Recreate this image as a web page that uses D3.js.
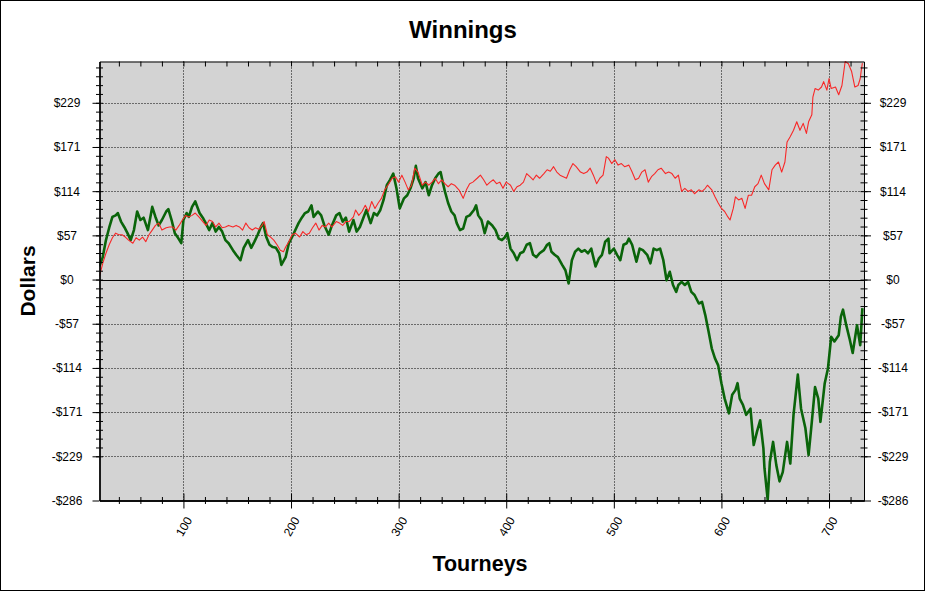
<!DOCTYPE html>
<html><head><meta charset="utf-8">
<script src="https://cdn.jsdelivr.net/npm/d3@7"></script>
<style>
body{margin:0;background:#fff}
svg{display:block}
text{font-family:"Liberation Sans",Arial,sans-serif}
</style>
</head><body>
<svg id="c" width="928" height="592"></svg>
<script>
const chartTitle = "Winnings";
const xTitle = "Tourneys";
const yTitle = "Dollars";
const tourneyTicks = [100, 200, 300, 400, 500, 600, 700];
const dollarTicks = [-285.75, -228.6, -171.45, -114.3, -57.15, 0, 57.15, 114.3, 171.45, 228.6];
const dollarLabels = ["-$286", "-$229", "-$171", "-$114", "-$57", "$0", "$57", "$114", "$171", "$229"];
const xDomain = [22, 732.5];
const yDomain = [-285.75, 282];

// [tourney, dollars]
const greenSeries = [
[22,17],[25,29],[28,51],[31,67],[34,81],[37,83],[39,86],[42,75],[45,68],[48,60],
[51,51],[54,64],[57,88],[60,77],[63,80],[67,64],[70,86],[71,94],[74,81],[77,70],
[80,77],[84,88],[86,91],[89,77],[92,60],[95,54],[98,47],[100,77],[103,86],[105,81],
[108,94],[111,101],[115,86],[118,80],[120,75],[124,64],[127,73],[130,62],[133,68],[136,62],
[139,51],[142,47],[146,38],[149,32],[153,25],[156,41],[160,51],[163,41],[166,49],[169,58],
[172,68],[174,73],[177,55],[180,45],[183,42],[186,41],[189,34],[191,19],[195,29],[198,47],
[201,55],[204,64],[207,73],[210,80],[213,86],[216,88],[219,96],[221,81],[225,88],[228,83],
[231,70],[235,58],[238,70],[242,83],[245,86],[248,75],[251,80],[254,62],
[258,77],[261,62],[264,68],[267,79],[270,90],[274,73],[277,86],[280,83],[283,90],[286,103],
[289,122],[292,129],[295,137],[298,118],[301,92],[305,105],[308,109],[311,118],[314,131],[316,147],
[318,131],[322,118],[325,126],[328,109],[331,122],[334,131],[337,137],[339,139],[341,126],[343,114],
[346,99],[349,88],[352,83],[354,73],[357,64],[360,66],[363,81],[366,83],[370,90],[372,96],
[374,83],[377,77],[380,60],[383,75],[387,70],[390,64],[393,53],[396,51],[399,55],[401,60],
[404,40],[407,34],[410,25],[413,34],[416,36],[419,45],[422,47],[425,32],[428,29],[431,34],
[435,38],[438,45],[440,47],[442,36],[445,32],[448,29],[452,19],[455,12],[458,-5],[461,25],
[464,36],[467,40],[470,36],[473,38],[476,34],[479,40],[483,17],[486,27],[489,32],[492,49],
[495,53],[496,34],[500,40],[503,32],[506,25],[509,45],[512,47],[514,53],[517,45],[521,23],
[524,40],[527,38],[531,32],[534,21],[537,40],[540,38],[543,40],[546,25],[549,-1],[552,10],
[555,-7],[558,-16],[560,-7],[563,-3],[566,-7],[569,-3],[572,-16],[575,-20],[579,-31],[582,-29],
[585,-46],[588,-67],[591,-89],[594,-102],[597,-111],[600,-134],[603,-154],[607,-173],[610,-149],[613,-143],
[615,-134],[617,-154],[620,-162],[623,-175],[627,-167],[630,-214],[633,-197],[636,-182],[639,-218],[640,-244],
[643,-285],[645,-236],[648,-210],[651,-240],[654,-261],[657,-249],[661,-210],[664,-238],[667,-175],[671,-123],
[674,-167],[678,-192],[681,-227],[684,-184],[687,-139],[690,-154],[692,-184],[696,-134],[699,-115],[702,-74],
[705,-80],[709,-72],[711,-48],[713,-39],[716,-59],[719,-76],[722,-95],[726,-59],[729,-85],[731,-37]
];

const redSeries = [
[22,4],[25,21],[28,34],[31,45],[34,54],[37,60],[40,58],[43,58],[46,55],[49,51],
[53,47],[56,54],[59,51],[62,55],[65,49],[68,58],[71,64],[74,70],[77,73],[80,64],
[84,67],[87,68],[90,68],[93,64],[96,70],[99,77],[102,83],[105,81],[108,83],[111,86],
[115,80],[118,75],[121,70],[124,77],[127,75],[130,68],[133,73],[136,67],[139,68],[142,70],
[146,68],[149,70],[152,68],[155,64],[158,73],[161,67],[164,64],[167,67],[170,65],[173,70],
[175,75],[178,58],[181,55],[184,51],[187,45],[190,38],[193,36],[195,42],[198,49],[201,58],
[204,60],[208,55],[211,62],[214,58],[217,60],[220,67],[223,73],[226,64],[229,70],[232,68],
[235,73],[238,68],[242,75],[245,73],[248,70],[251,75],[254,75],
[258,81],[260,90],[263,83],[266,88],[269,96],[272,88],[275,101],[278,92],[281,99],[284,105],
[287,116],[290,122],[294,131],[297,133],[300,126],[303,135],[306,126],[309,116],[312,122],[315,144],
[318,139],[322,122],[325,126],[328,122],[331,126],[334,131],[337,124],[340,129],[343,124],[346,120],
[349,124],[352,122],[356,116],[360,105],[363,116],[366,124],[369,126],[373,131],[376,135],[379,129],
[382,122],[385,126],[388,129],[391,124],[394,126],[397,118],[400,126],[404,122],[407,114],[410,120],
[413,122],[416,126],[419,137],[422,133],[425,129],[428,135],[431,131],[435,137],[438,142],[441,140],
[444,146],[447,139],[450,135],[453,133],[456,131],[459,142],[462,150],[465,146],[469,139],[472,137],
[475,139],[478,144],[481,135],[484,124],[487,131],[490,135],[493,159],
[495,157],[498,150],[501,155],[504,148],[507,150],[510,146],[514,148],[517,139],[520,129],[523,131],
[526,139],[529,142],[532,126],[535,133],[538,137],[541,142],[544,144],[548,137],[551,139],[554,137],
[557,131],[560,135],[563,114],[566,118],[569,114],[572,116],[575,111],[579,116],[582,114],[585,118],
[587,122],[591,116],[594,107],[597,99],[600,92],[603,88],[606,81],[608,77],[611,92],[613,107],
[616,103],[619,105],[622,92],[625,109],[628,109],[631,120],[634,124],[637,135],[640,124],[644,116],
[647,142],[650,148],[653,152],[656,139],[659,152],[661,178],[664,185],[667,193],[670,204],[673,193],
[676,202],[679,189],[681,204],[684,213],[685,236],[687,247],[690,245],[693,249],[695,256],[698,245],
[700,260],[702,247],[706,249],[709,239],[712,251],[715,282],[718,279],[721,269],[724,249],[727,251],
[729,260],[730,271],[731,280]
];

const svg = d3.select("#c");
const L = 99.5, R = 864, T = 61.5, B = 500.5;
const x = d3.scaleLinear().domain(xDomain).range([L, R]);
const y = d3.scaleLinear().domain(yDomain).range([B, T]);

svg.append("rect").attr("x", 0.5).attr("y", 0.5).attr("width", 924).attr("height", 590)
  .attr("fill", "#fff").attr("stroke", "#000");
svg.append("rect").attr("x", L).attr("y", T).attr("width", R - L).attr("height", B - T).attr("fill", "#d3d3d3");

// grid
const grid = svg.append("g");
grid.selectAll("line.h").data(dollarTicks.filter(d => d !== 0 && d > yDomain[0])).join("line")
  .attr("x1", L).attr("x2", R).attr("y1", d => Math.round(y(d)) + 0.5).attr("y2", d => Math.round(y(d)) + 0.5)
  .attr("stroke", "#000").attr("stroke-dasharray", "1,2");
grid.selectAll("line.v").data(tourneyTicks).join("line")
  .attr("y1", T).attr("y2", B).attr("x1", d => Math.round(x(d)) + 0.5).attr("x2", d => Math.round(x(d)) + 0.5)
  .attr("stroke", "#000").attr("stroke-dasharray", "1,2");
grid.append("line").attr("x1", L).attr("x2", R).attr("y1", Math.round(y(0)) + 0.5).attr("y2", Math.round(y(0)) + 0.5)
  .attr("stroke", "#000");

// lines
const line = d3.line().x(d => x(d[0])).y(d => y(d[1]));
svg.append("clipPath").attr("id", "pc").append("rect").attr("x", L).attr("y", T - 1).attr("width", R - L).attr("height", B - T + 2);
svg.append("path").datum(greenSeries).attr("d", line).attr("fill", "none")
  .attr("stroke", "#0a640a").attr("stroke-width", 2.6).attr("stroke-linejoin", "round").attr("clip-path", "url(#pc)");
svg.append("path").datum(redSeries).attr("d", line).attr("fill", "none")
  .attr("stroke", "#f82828").attr("stroke-width", 1.1).attr("stroke-linejoin", "round").attr("clip-path", "url(#pc)");

// minor tick values
const yMinor = d3.range(-20, 26).map(k => k * 11.43).filter(v => v >= yDomain[0] && v <= yDomain[1]);
const xMinor = d3.range(40, 731, 20).filter(v => v % 100 !== 0);

function styleAxis(g) {
  g.selectAll("path.domain").attr("stroke", "#000");
  g.selectAll("line").attr("stroke", "#000");
  g.selectAll("text").attr("font-size", 12).attr("fill", "#000").style("font-family", '"Liberation Sans",Arial,sans-serif');
}

// left axis
const gl = svg.append("g").attr("transform", `translate(${L},0)`)
  .call(d3.axisLeft(y).tickValues(dollarTicks).tickFormat((d, i) => dollarLabels[i]).tickSizeInner(7).tickSizeOuter(0));
gl.selectAll("text").attr("x", -32.5).attr("text-anchor", "middle");
styleAxis(gl);
const glm = svg.append("g").attr("transform", `translate(${L},0)`)
  .call(d3.axisLeft(y).tickValues(yMinor).tickFormat("").tickSizeInner(3.5).tickSizeOuter(0));
const glm2 = svg.append("g").attr("transform", `translate(${L},0)`)
  .call(d3.axisLeft(y).tickValues(yMinor).tickFormat("").tickSizeInner(-3.5).tickSizeOuter(0));
styleAxis(glm); styleAxis(glm2);

// right axis
const gr = svg.append("g").attr("transform", `translate(${R},0)`)
  .call(d3.axisRight(y).tickValues(dollarTicks).tickFormat((d, i) => dollarLabels[i]).tickSizeInner(7).tickSizeOuter(0));
gr.selectAll("text").attr("x", 29).attr("text-anchor", "middle");
styleAxis(gr);
const grm = svg.append("g").attr("transform", `translate(${R},0)`)
  .call(d3.axisRight(y).tickValues(yMinor).tickFormat("").tickSizeInner(3.5).tickSizeOuter(0));
const grm2 = svg.append("g").attr("transform", `translate(${R},0)`)
  .call(d3.axisRight(y).tickValues(yMinor).tickFormat("").tickSizeInner(-3.5).tickSizeOuter(0));
styleAxis(grm); styleAxis(grm2);

// bottom axis
const gb = svg.append("g").attr("transform", `translate(0,${B})`)
  .call(d3.axisBottom(x).tickValues(tourneyTicks).tickSizeInner(8).tickSizeOuter(0));
gb.selectAll("text").attr("y", 0).attr("dy", "0.35em").attr("text-anchor", "middle")
  .attr("transform", "translate(0,26) rotate(-60)");
styleAxis(gb);
const gbi = svg.append("g").attr("transform", `translate(0,${B})`)
  .call(d3.axisBottom(x).tickValues(tourneyTicks).tickFormat("").tickSizeInner(-7).tickSizeOuter(0));
const gbm = svg.append("g").attr("transform", `translate(0,${B})`)
  .call(d3.axisBottom(x).tickValues(xMinor).tickFormat("").tickSizeInner(3.5).tickSizeOuter(0));
const gbm2 = svg.append("g").attr("transform", `translate(0,${B})`)
  .call(d3.axisBottom(x).tickValues(xMinor).tickFormat("").tickSizeInner(-3.5).tickSizeOuter(0));
styleAxis(gbi); styleAxis(gbm); styleAxis(gbm2);

// top axis (inward ticks only)
const gt = svg.append("g").attr("transform", `translate(0,${T})`)
  .call(d3.axisTop(x).tickValues(tourneyTicks.concat(xMinor)).tickFormat("").tickSizeInner(-5).tickSizeOuter(0));
styleAxis(gt);

// titles
svg.append("text").attr("x", 463).attr("y", 38).attr("text-anchor", "middle")
  .attr("font-size", 24).attr("font-weight", "bold").attr("fill", "#000").text(chartTitle);
svg.append("text").attr("x", 480).attr("y", 571).attr("text-anchor", "middle")
  .attr("font-size", 21.5).attr("font-weight", "bold").attr("fill", "#000").text(xTitle);
svg.append("text").attr("transform", "translate(35,281) rotate(-90)").attr("text-anchor", "middle")
  .attr("font-size", 21).attr("font-weight", "bold").attr("fill", "#000").text(yTitle);
</script>
</body></html>
